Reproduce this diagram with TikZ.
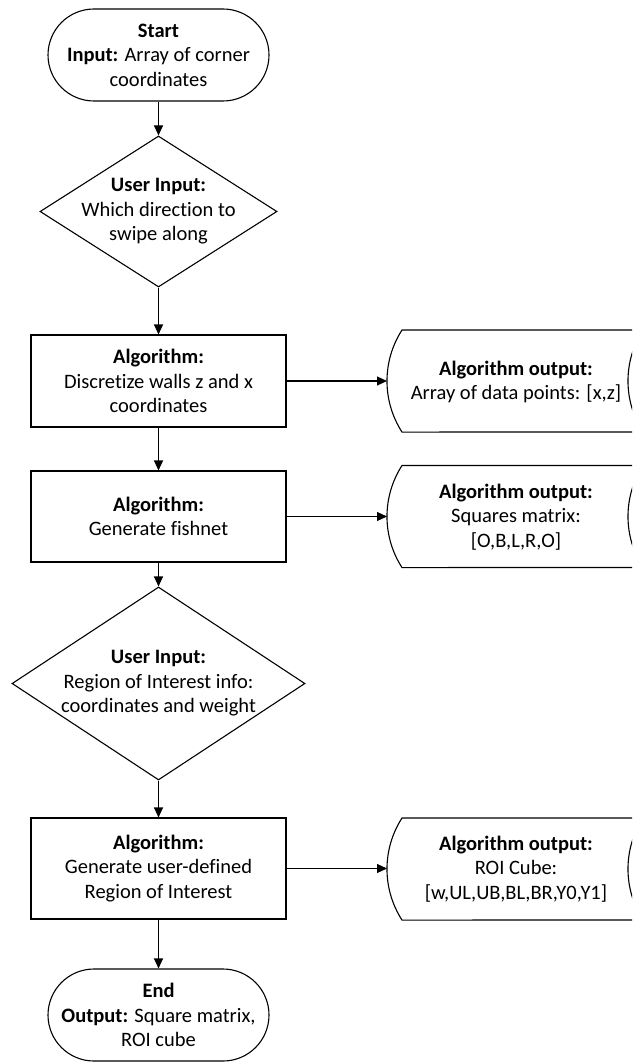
\documentclass[tikz,border=0pt]{standalone}
\usepackage{fontspec}
\setmainfont{Carlito}[Ligatures=NoCommon]
\usetikzlibrary{arrows.meta,shapes.geometric}

% outline of a "stored data" symbol, drawn around a plain rectangle node
\newcommand\storeoutline[1]{%
  \draw[line width=1.1pt]
    ([xshift=15pt]#1.north west)
      arc[start angle=147.2,end angle=212.8,radius=94.2pt]
    -- (#1.south east)
      arc[start angle=212.8,end angle=147.2,radius=94.2pt]
    -- cycle;}

\begin{document}
\begin{tikzpicture}[x=1pt,y=1pt,
  every node/.style={font=\fontsize{20.5}{24.5}\selectfont, align=center, inner sep=0pt},
  term/.style={draw, line width=1.1pt, rectangle, rounded corners=46pt,
    minimum width=221pt, minimum height=92pt},
  proc/.style={draw, line width=1.1pt, rectangle, minimum width=255pt},
  decide/.style={draw, line width=1.1pt, diamond},
  store/.style={rectangle, minimum width=256pt, minimum height=102pt, outer sep=0pt},
  arr/.style={line width=1.1pt, -{Triangle[length=10pt,width=9pt]}}]

\useasboundingbox (0,0) rectangle (632,-1062);
\clip (0,0) rectangle (632,-1062);

% main column
\node[term] (start) at (158.5,-55)
  {\textbf{Start}\\\textbf{Input:} Array of corner\\coordinates};

\node[decide, minimum width=237pt, minimum height=151pt] (d1) at (158.5,-211.5) {};
\node (d1t) at (d1.center) {\textbf{User Input:}\\Which direction to\\swipe along};

\node[proc, minimum height=92pt] (p1) at (158.5,-381)
  {\textbf{Algorithm:}\\Discretize walls z and x\\coordinates};

\node[proc, minimum height=91pt] (p2) at (158.5,-516.5)
  {\textbf{Algorithm:}\\Generate fishnet};

\node[decide, minimum width=293pt, minimum height=193pt] (d2) at (158.5,-683.5) {};
\node (d2t) at (d2.center) {\textbf{User Input:}\\Region of Interest info:\\coordinates and weight};

\node[proc, minimum height=101pt] (p3) at (158.5,-868.5)
  {\textbf{Algorithm:}\\Generate user-defined\\Region of Interest};

\node[term] (stop) at (158.5,-1015)
  {\textbf{End}\\\textbf{Output:} Square matrix,\\ROI cube};

% stored outputs
\node[store] (s1) at (515,-381) {};
\node (s1t) at (516,-382) {\textbf{Algorithm output:}\\Array of data points: [x,z]};
\storeoutline{s1}

\node[store] (s2) at (515,-516.5) {};
\node (s2t) at (516,-517) {\textbf{Algorithm output:}\\Squares matrix:\\{}[O,B,L,R,O]};
\storeoutline{s2}

\node[store] (s3) at (515,-869) {};
\node (s3t) at (516,-869) {\textbf{Algorithm output:}\\ROI Cube:\\{}[w,UL,UB,BL,BR,Y0,Y1]};
\storeoutline{s3}

% flow
\draw[arr] (start) -- (d1);
\draw[arr] (d1) -- (p1);
\draw[arr] (p1) -- (p2);
\draw[arr] (p2) -- (d2);
\draw[arr] (d2) -- (p3);
\draw[arr] (p3) -- (stop);

\draw[arr] (p1.east) -- (p1.east -| s1.west);
\draw[arr] (p2.east) -- (p2.east -| s2.west);
\draw[arr] (p3.east) -- (p3.east -| s3.west);
\end{tikzpicture}
\end{document}
